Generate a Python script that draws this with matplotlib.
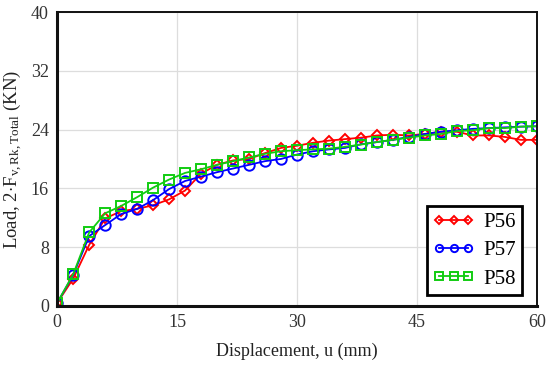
import matplotlib
matplotlib.use("Agg")
import matplotlib.pyplot as plt
import numpy as np

# displacement (mm), one reading every 2 mm
disp = np.arange(0, 62, 2)

# load readings (kN)
load_p56 = [0.4, 3.7, 8.3, 11.9, 12.9, 13.2, 13.7, 14.5, 15.7, 18.0, 19.2,
            19.8, 20.0, 20.8, 21.5, 21.8, 22.2, 22.5, 22.7, 22.9, 23.2,
            23.3, 23.2, 23.4, 23.7, 23.7, 23.2, 23.2, 23.0, 22.6, 22.6]
load_p57 = [0.4, 4.2, 9.5, 11.0, 12.5, 13.2, 14.4, 15.9, 17.0, 17.6, 18.2,
            18.7, 19.2, 19.7, 20.0, 20.6, 21.05, 21.3, 21.5, 22.0, 22.3,
            22.6, 23.0, 23.4, 23.7, 23.9, 24.1, 24.2, 24.3, 24.4, 24.45]
load_p58 = [0.4, 4.3, 10.0, 12.6, 13.6, 14.8, 16.1, 17.2, 18.1, 18.6, 19.2,
            19.7, 20.2, 20.7, 21.05, 21.2, 21.3, 21.4, 21.65, 21.96, 22.3,
            22.6, 22.9, 23.2, 23.4, 23.8, 23.9, 24.2, 24.2, 24.4, 24.45]

series = [("P56", load_p56, "#ff0000", "D", 5.5),
          ("P57", load_p57, "#0000ff", "o", 7.5),
          ("P58", load_p58, "#11cc11", "s", 7.5)]

x_ticks = [0, 15, 30, 45, 60]
y_ticks = [0, 8, 16, 24, 32, 40]

plt.rcParams["font.family"] = ["Liberation Serif", "DejaVu Serif"]
plt.rcParams["mathtext.fontset"] = "custom"
plt.rcParams["mathtext.rm"] = "Liberation Serif"
plt.rcParams["mathtext.it"] = "Liberation Serif"

fig = plt.figure(figsize=(5.5, 3.65), dpi=100)
ax = fig.add_axes([0.104, 0.162, 0.872, 0.805])

for name, vals, col, mk, ms in series:
    ax.plot(disp, vals, color=col, lw=1.3, marker=mk, markersize=ms,
            markerfacecolor="none", markeredgecolor=col, markeredgewidth=1.4,
            label=name)

ax.set_xlim(0, 60)
ax.set_ylim(0, 40)
ax.set_xticks(x_ticks)
ax.set_yticks(y_ticks)
ax.tick_params(length=0, labelsize=13, pad=6, colors="#333333")
ax.grid(color="#dddddd", lw=0.9)
ax.set_axisbelow(True)

for side in ["left", "bottom"]:
    ax.spines[side].set_linewidth(2.2)
for side in ["top", "right"]:
    ax.spines[side].set_linewidth(1.4)
for sp in ax.spines.values():
    sp.set_color("#111111")
    sp.set_clip_on(False)

ax.set_xlabel("Displacement, u (mm)", fontsize=13, labelpad=8, color="#222222")
ax.set_ylabel(r"Load, 2$\cdot$F$_{\mathrm{v,Rk,Total}}$ (KN)", fontsize=13.5,
              labelpad=5, color="#222222")

leg = ax.legend(loc="lower right", numpoints=3, fontsize=15, frameon=True,
                fancybox=False, framealpha=1, edgecolor="black",
                handlelength=2.0, handletextpad=0.4, borderpad=0.3,
                labelspacing=0.42, markerscale=0.7, borderaxespad=0,
                bbox_to_anchor=(0.969, 0.037))
leg.get_frame().set_linewidth(2.0)

fig.savefig("out.png", dpi=100)
